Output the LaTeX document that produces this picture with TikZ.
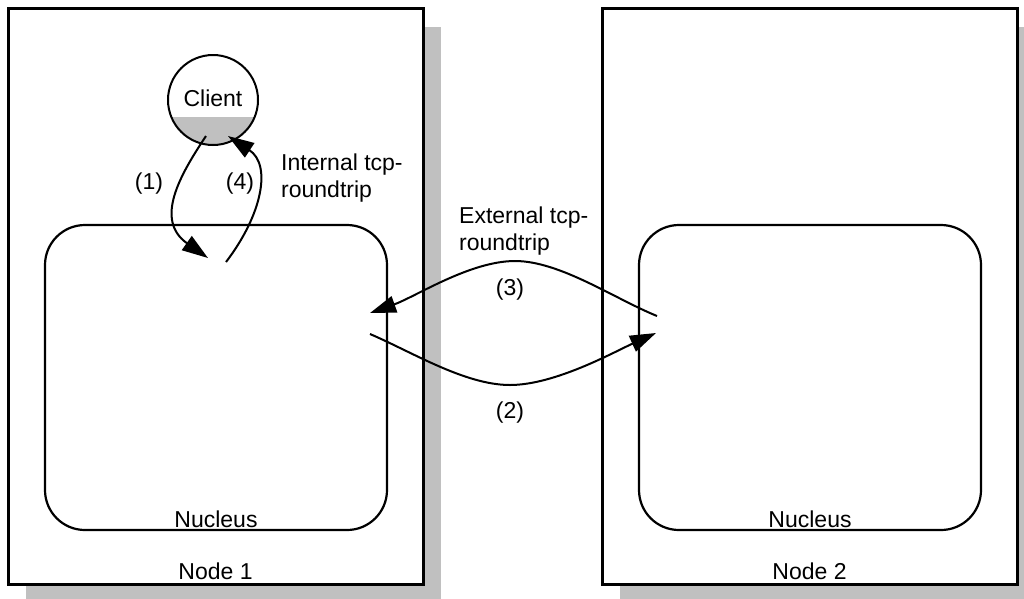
\documentclass[tikz,border=0pt]{standalone}
\usepackage{fontspec}
\setmainfont{Liberation Sans}
\usetikzlibrary{arrows.meta,positioning,shadows}
\definecolor{ShadeGray}{RGB}{192,192,192}

\begin{document}
\begin{tikzpicture}[x=1pt,y=-1pt,>={Triangle[length=26pt,width=17pt]},
    font=\fontsize{23}{27}\selectfont,
    hostbox/.style={draw,line width=3pt,fill=white,inner sep=0pt,
      minimum width=415pt,minimum height=576pt,
      drop shadow={shadow xshift=18pt,shadow yshift=-19pt,fill=ShadeGray,opacity=1}},
    nucbox/.style={draw,line width=2.2pt,rounded corners=40pt,inner sep=0pt,
      minimum width=342pt,minimum height=305pt},
    flow/.style={->,line width=2pt},
    txt/.style={inner sep=0pt}]
  \useasboundingbox (0,0) rectangle (1024,598);
  % hosts
  \node[hostbox] (node1) at (215.5,296) {};
  \node[hostbox] (node2) at (809.5,296) {};
  \node[txt,above=6pt of node1.south] (n1lbl) {Node 1};
  \node[txt,above=6pt of node2.south] (n2lbl) {Node 2};
  % nuclei
  \node[nucbox] (nuc1) at (216,377.5) {};
  \node[nucbox] (nuc2) at (810,377.5) {};
  \node[txt,above=3pt of nuc1.south] (nuc1lbl) {Nucleus};
  \node[txt,above=3pt of nuc2.south] (nuc2lbl) {Nucleus};
  % client
  \node[circle,minimum size=90pt,inner sep=0pt] (client) at (213,100) {};
  \begin{scope}
    \clip (client.center) circle (45pt);
    \fill[ShadeGray] (160,117) rectangle (266,150);
  \end{scope}
  \draw[line width=2pt] (client.center) circle (45pt);
  \node[txt] (clientlbl) at (213,98) {Client};
  % internal roundtrip
  \coordinate (c1) at (206,136);
  \coordinate (in1) at (208,258);
  \coordinate (out4) at (226,262);
  \coordinate (c4) at (228,136);
  \draw[flow] (c1) .. controls (180,175) and (154,220) .. (in1);
  \draw[flow] (out4) .. controls (262,215) and (272,165) .. (c4);
  \node[txt] (l1) at (149,184) {(1)};
  \node[txt] (l4) at (240,184) {(4)};
  \node[txt,anchor=west,align=left] (intlbl) at (281,178) {Internal tcp-\\roundtrip};
  % external roundtrip
  \coordinate (a3s) at (657,316);
  \coordinate (a3e) at (370,313);
  \coordinate (a2s) at (370,334);
  \coordinate (a2e) at (656,333);
  \draw[flow] (a3s) .. controls (615,299) and (560,261) .. (515,261)
    .. controls (470,261) and (415,297) .. (a3e);
  \draw[flow] (a2s) .. controls (412,352) and (465,385) .. (510,385)
    .. controls (555,385) and (614,352) .. (a2e);
  \node[txt] (l3) at (510,290) {(3)};
  \node[txt] (l2) at (510,413) {(2)};
  \node[txt,anchor=west,align=left] (extlbl) at (459,231) {External tcp-\\roundtrip};
\end{tikzpicture}
\end{document}
